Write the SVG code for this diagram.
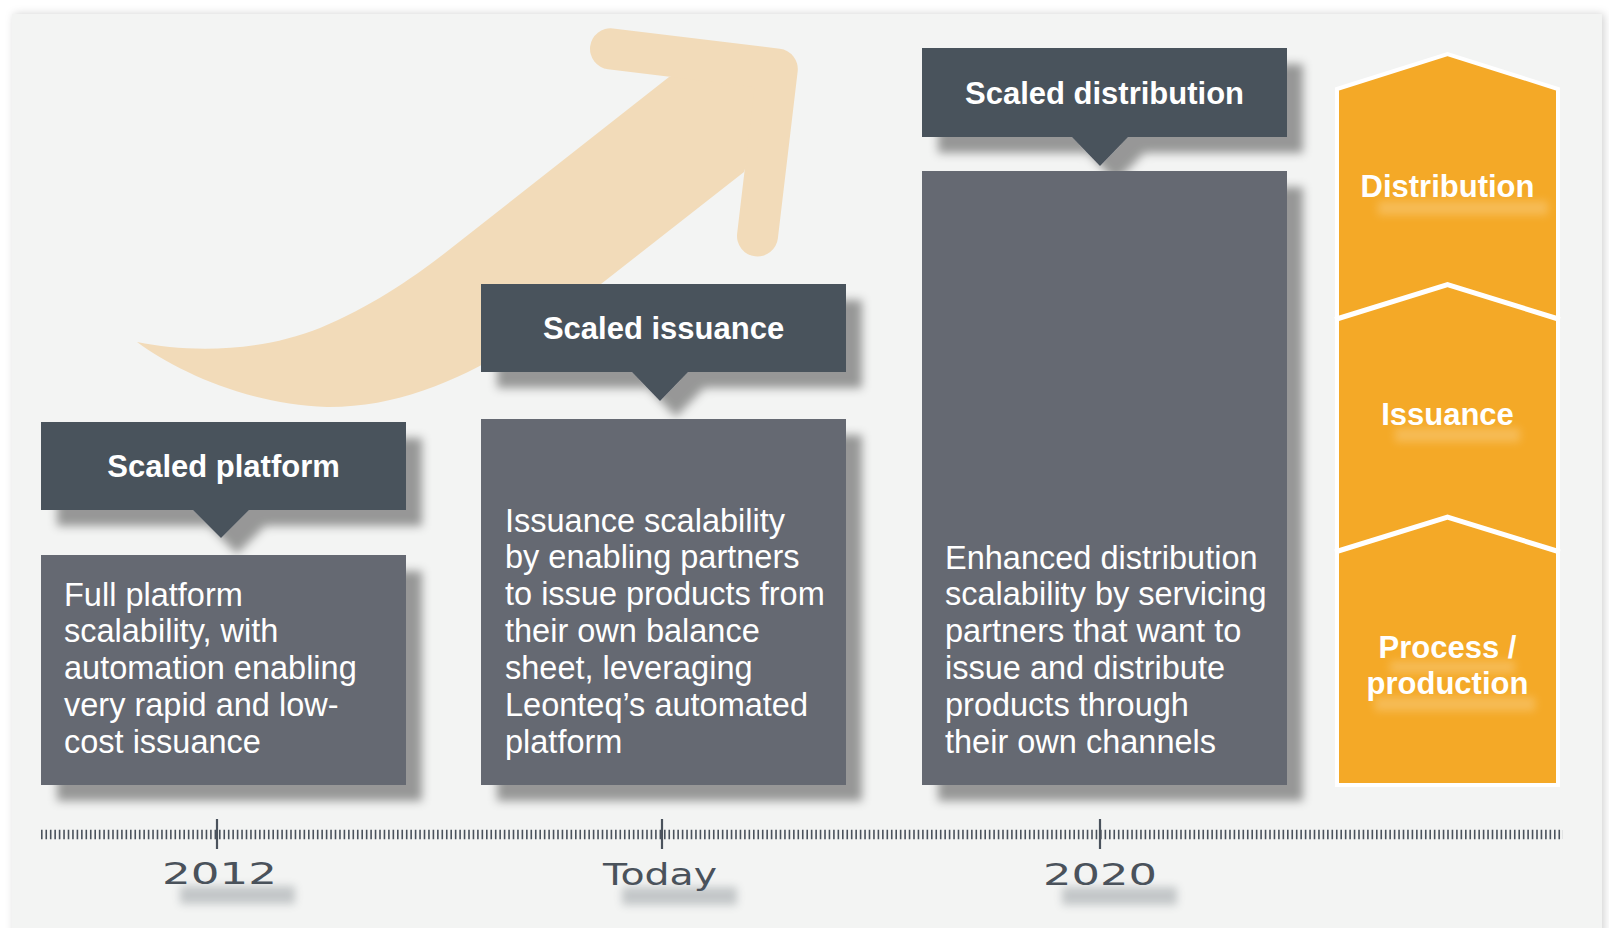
<svg xmlns="http://www.w3.org/2000/svg" width="1609" height="928" viewBox="0 0 1609 928">
<defs>
<style>
.hdr{fill:#4a525c}
.body{fill:#656972}
.htxt{font-family:"Liberation Sans",Arial,sans-serif;font-weight:bold;font-size:31px;fill:#ffffff;text-anchor:middle}
.btxt{font-family:"Liberation Sans",Arial,sans-serif;font-size:32.5px;fill:#ffffff}
.otxt{font-family:"Liberation Sans",Arial,sans-serif;font-weight:bold;font-size:31px;fill:#ffffff;text-anchor:middle}
.ytxt{font-family:"DejaVu Sans",sans-serif;font-size:30px;fill:#4a525b}
.sep{fill:none;stroke:#ffffff;stroke-width:5}
.smudge{fill:#4a525c;opacity:0.28}
.osmudge{fill:#ffffff;opacity:0.22}
</style>
<filter id="shadow" x="-10%" y="-10%" width="130%" height="140%">
<feGaussianBlur in="SourceAlpha" stdDeviation="5"/>
<feOffset dx="16" dy="16" result="b"/>
<feFlood flood-color="#000000" flood-opacity="0.38"/>
<feComposite in2="b" operator="in"/>
<feMerge><feMergeNode/><feMergeNode in="SourceGraphic"/></feMerge>
</filter>
<filter id="panelShadow" x="-5%" y="-5%" width="110%" height="110%">
<feGaussianBlur in="SourceAlpha" stdDeviation="4"/>
<feOffset dx="2" dy="0" result="b"/>
<feFlood flood-color="#000000" flood-opacity="0.18"/>
<feComposite in2="b" operator="in"/>
<feMerge><feMergeNode/><feMergeNode in="SourceGraphic"/></feMerge>
</filter>
<filter id="blur" x="-30%" y="-100%" width="160%" height="300%">
<feGaussianBlur stdDeviation="4"/>
</filter>
</defs>

<rect x="0" y="0" width="1609" height="928" fill="#ffffff"/>
<rect x="12" y="14" width="1590" height="930" fill="#f3f4f3" filter="url(#panelShadow)"/>

<g id="growth-arrow" fill="#f2dbb9">
<path d="M137 342 C190 353 260 352 320 328 C370 307 410 280 445 253 L669 77 L777 69 L744 172 L601 284 C520 348 430 408 327 407 C245 404 175 370 137 342 Z"/>
<polyline points="610.5,48.8 777.3,69.1 757.5,236" fill="none" stroke="#f2dbb9" stroke-width="41" stroke-linecap="round" stroke-linejoin="round"/>
</g>

<g id="scaled-platform">
<g filter="url(#shadow)">
<rect class="hdr" x="41" y="422" width="365" height="88"/>
<polygon class="hdr" points="192,509 250,509 221,538"/>
</g>
<text class="htxt" x="223.5" y="477">Scaled platform</text>
<rect class="body" x="41" y="555" width="365" height="230" filter="url(#shadow)"/>
<text class="btxt" x="64" y="605.5">Full platform<tspan x="64" dy="36.9">scalability, with</tspan><tspan x="64" dy="36.9">automation enabling</tspan><tspan x="64" dy="36.9">very rapid and low-</tspan><tspan x="64" dy="36.9">cost issuance</tspan></text>
</g>

<g id="scaled-issuance">
<g filter="url(#shadow)">
<rect class="hdr" x="481" y="284" width="365" height="88"/>
<polygon class="hdr" points="631,371 689,371 660,401"/>
</g>
<text class="htxt" x="663.5" y="339">Scaled issuance</text>
<rect class="body" x="481" y="419" width="365" height="366" filter="url(#shadow)"/>
<text class="btxt" x="505" y="531.5">Issuance scalability<tspan x="505" dy="36.9">by enabling partners</tspan><tspan x="505" dy="36.9">to issue products from</tspan><tspan x="505" dy="36.9">their own balance</tspan><tspan x="505" dy="36.9">sheet, leveraging</tspan><tspan x="505" dy="36.9">Leonteq’s automated</tspan><tspan x="505" dy="36.9">platform</tspan></text>
</g>

<g id="scaled-distribution">
<g filter="url(#shadow)">
<rect class="hdr" x="922" y="48" width="365" height="89"/>
<polygon class="hdr" points="1071,136 1129,136 1100,166"/>
</g>
<text class="htxt" x="1104.5" y="103.5">Scaled distribution</text>
<rect class="body" x="922" y="171" width="365" height="614" filter="url(#shadow)"/>
<text class="btxt" x="945" y="568.5">Enhanced distribution<tspan x="945" dy="36.9">scalability by servicing</tspan><tspan x="945" dy="36.9">partners that want to</tspan><tspan x="945" dy="36.9">issue and distribute</tspan><tspan x="945" dy="36.9">products through</tspan><tspan x="945" dy="36.9">their own channels</tspan></text>
</g>

<g id="value-chain">
<polygon points="1337,89 1447.5,54 1558,89 1558,785 1337,785" fill="#f4a927" stroke="#ffffff" stroke-width="4" stroke-linejoin="miter"/>
<polyline class="sep" points="1335,319.5 1447.5,284.5 1560,319.5"/>
<polyline class="sep" points="1335,552 1447.5,517 1560,552"/>
<g id="seg-distribution">
<rect class="osmudge" x="1378" y="201" width="170" height="14" filter="url(#blur)"/>
<text class="otxt" x="1447.5" y="197">Distribution</text>
</g>
<g id="seg-issuance">
<rect class="osmudge" x="1395" y="428" width="125" height="14" filter="url(#blur)"/>
<text class="otxt" x="1447.5" y="425">Issuance</text>
</g>
<g id="seg-process">
<rect class="osmudge" x="1390" y="661" width="125" height="12" filter="url(#blur)"/>
<rect class="osmudge" x="1375" y="697" width="160" height="14" filter="url(#blur)"/>
<text class="otxt" x="1447.5" y="658">Process /<tspan x="1447.5" dy="36">production</tspan></text>
</g>
</g>

<g id="timeline">
<line x1="41" y1="834.5" x2="1563" y2="834.5" stroke="#4a525c" stroke-width="9.5" stroke-dasharray="1.6 2.85"/>
<line x1="217" y1="819" x2="217" y2="849" stroke="#4a525c" stroke-width="2.2"/>
<line x1="662" y1="819" x2="662" y2="849" stroke="#4a525c" stroke-width="2.2"/>
<line x1="1100" y1="819" x2="1100" y2="849" stroke="#4a525c" stroke-width="2.2"/>
<rect class="smudge" x="180" y="886" width="115" height="18" filter="url(#blur)"/>
<rect class="smudge" x="622" y="887" width="115" height="18" filter="url(#blur)"/>
<rect class="smudge" x="1062" y="887" width="115" height="18" filter="url(#blur)"/>
<text class="ytxt" x="162" y="884" textLength="115" lengthAdjust="spacingAndGlyphs">2012</text>
<text class="ytxt" x="603" y="885" textLength="114" lengthAdjust="spacingAndGlyphs">Today</text>
<text class="ytxt" x="1043" y="885" textLength="114" lengthAdjust="spacingAndGlyphs">2020</text>
</g>
</svg>
